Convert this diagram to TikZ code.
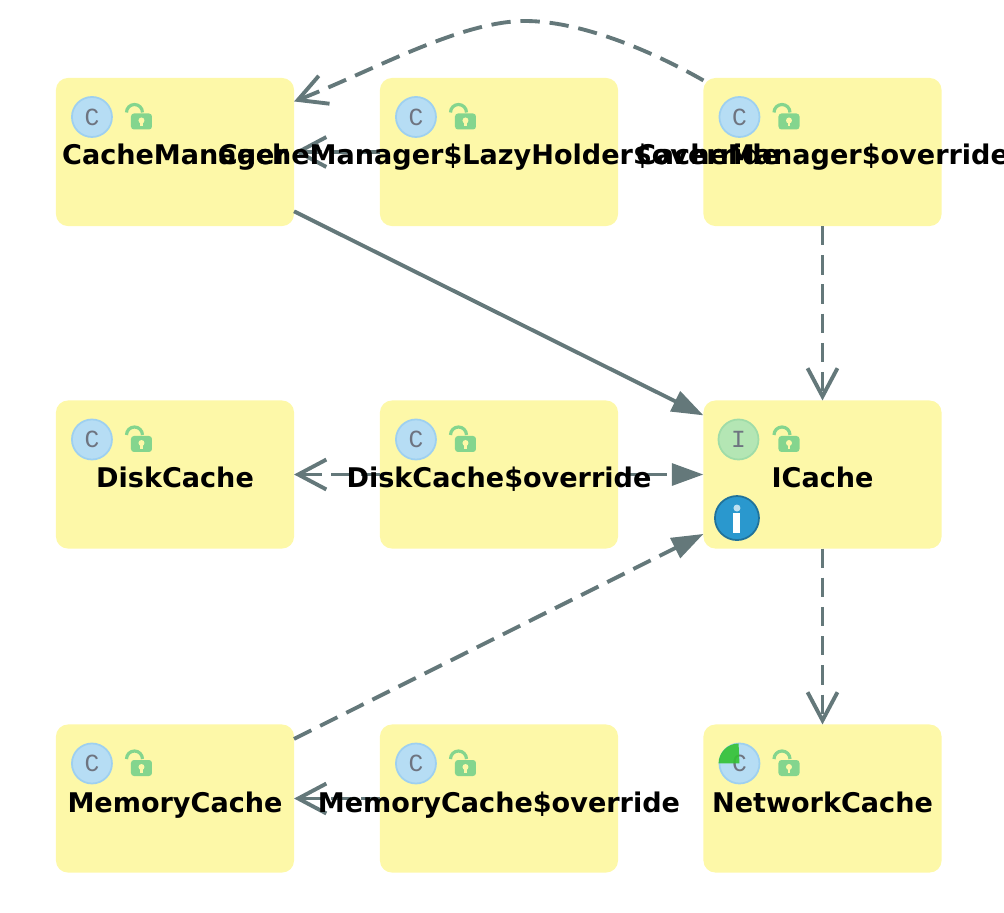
\documentclass[tikz,border=0pt]{standalone}
\usepackage{fontspec}
\setmainfont{DejaVu Sans}
\newfontfamily\iconfont{Liberation Mono}
\usetikzlibrary{arrows.meta}
\definecolor{boxyellow}{HTML}{FDF8A8}
\definecolor{linegray}{HTML}{64787A}
\definecolor{iconblue}{HTML}{B6DDF4}
\definecolor{iconedge}{HTML}{9ED0F0}
\definecolor{icongreen}{HTML}{B4E6B4}
\definecolor{iconrim}{HTML}{9FDCA8}
\definecolor{lockgreen}{HTML}{84D58E}
\definecolor{lettergray}{HTML}{6E7480}
\definecolor{infoblue}{HTML}{2A98CE}
\tikzset{
  classbox/.style={rectangle,fill=boxyellow,rounded corners=1.2mm,minimum width=2.38cm,minimum height=1.48cm,inner sep=0pt,outer sep=0pt},
  classname/.style={font=\fontsize{7.7}{10}\selectfont\bfseries,text=black,inner sep=0pt,anchor=base},
  classicon/.style={circle,draw=iconedge,fill=iconblue,line width=0.5pt,minimum size=0.4cm,inner sep=0pt,font=\fontsize{7}{7}\selectfont\iconfont,text=lettergray},
  depline/.style={draw=linegray,line width=1.1pt,dash pattern=on 5.5pt off 2.8pt},
  openhead/.style={-{Straight Barb[length=8pt,width=8.5pt,line width=1.1pt]}},
  fullhead/.style={-{Triangle[length=9pt,width=6.2pt]}},
  lockicon/.pic={
    \fill[lockgreen,rounded corners=0.3mm] (-10.5,-8) rectangle (10.5,8);
    \fill[boxyellow] (0,1) circle (3);
    \fill[boxyellow] (-1.2,-5) rectangle (1.2,1);
    \draw[lockgreen,line width=0.9pt] (-15,9) arc (180:0:8);
  }
}
\begin{document}
\begin{tikzpicture}[x=0.01cm,y=0.01cm]
  \useasboundingbox (0,0) rectangle (1004,-912);
  % boxes
  \node[classbox] (manager) at (175,-152) {};
  \node[classbox] (lazyholder) at (499,-152) {};
  \node[classbox] (manageroverride) at (822.5,-152) {};
  \node[classbox] (disk) at (175,-474.5) {};
  \node[classbox] (diskoverride) at (499,-474.5) {};
  \node[classbox] (icache) at (822.5,-474.5) {};
  \node[classbox] (memory) at (175,-798.5) {};
  \node[classbox] (memoryoverride) at (499,-798.5) {};
  \node[classbox] (network) at (822.5,-798.5) {};
  % connectors
  \coordinate (curvetop) at (525,-21);
  \draw[depline,openhead] (manageroverride.149) .. controls (650,-50) and (580,-21) .. (curvetop) .. controls (460,-21) and (370,-72) .. (manager.23.6);
  \draw[depline,openhead] (lazyholder) -- (manager);
  \draw[draw=linegray,line width=1.1pt,fullhead] (manager) -- (icache);
  \draw[depline,openhead] (manageroverride) -- (icache);
  \draw[depline,openhead] (diskoverride) -- (disk);
  \draw[depline,fullhead] (diskoverride) -- (icache);
  \draw[depline,openhead] (icache) -- (network);
  \draw[depline,fullhead] (memory) -- (icache);
  \draw[depline,openhead] (memoryoverride) -- (memory);
  % icons
  \foreach \boxname/\letter in {manager/C,lazyholder/C,manageroverride/C,disk/C,diskoverride/C,memory/C,memoryoverride/C,network/C}{
    \node[classicon] (\boxname-icon) at ([xshift=-0.83cm,yshift=0.35cm]\boxname.center) {\letter};
  }
  \node[classicon,draw=iconrim,fill=icongreen] (icache-icon) at ([xshift=-0.84cm,yshift=0.35cm]icache.center) {I};
  \fill[green!70!black!80!white,opacity=0.9] (network-icon.center) -- (network-icon.west) arc (180:90:20) -- cycle;
  \foreach \boxname in {manager,lazyholder,manageroverride,disk,diskoverride,icache,memory,memoryoverride,network}{
    \path ([xshift=-0.335cm,yshift=0.305cm]\boxname.center) pic {lockicon};
  }
  % info mark
  \node[circle,fill=infoblue,draw=infoblue!75!black,line width=0.5pt,minimum size=0.44cm,inner sep=0pt] (icache-info) at ([xshift=-0.855cm,yshift=-0.435cm]icache.center) {};
  \fill[white] ([xshift=-0.035cm,yshift=-0.15cm]icache-info.center) rectangle ([xshift=0.035cm,yshift=0.05cm]icache-info.center);
  \fill[white,opacity=0.7] ([yshift=0.1cm]icache-info.center) circle (3.5);
  % names
  \node[classname] at ([yshift=-0.12cm]manager.center) {CacheManager};
  \node[classname] at ([yshift=-0.12cm]lazyholder.center) {CacheManager\$LazyHolder\$override};
  \node[classname] at ([yshift=-0.12cm]manageroverride.center) {CacheManager\$override};
  \node[classname] at ([yshift=-0.13cm]disk.center) {DiskCache};
  \node[classname] at ([yshift=-0.13cm]diskoverride.center) {DiskCache\$override};
  \node[classname] at ([yshift=-0.13cm]icache.center) {ICache};
  \node[classname] at ([yshift=-0.14cm]memory.center) {MemoryCache};
  \node[classname] at ([yshift=-0.14cm]memoryoverride.center) {MemoryCache\$override};
  \node[classname] at ([yshift=-0.14cm]network.center) {NetworkCache};
\end{tikzpicture}
\end{document}
